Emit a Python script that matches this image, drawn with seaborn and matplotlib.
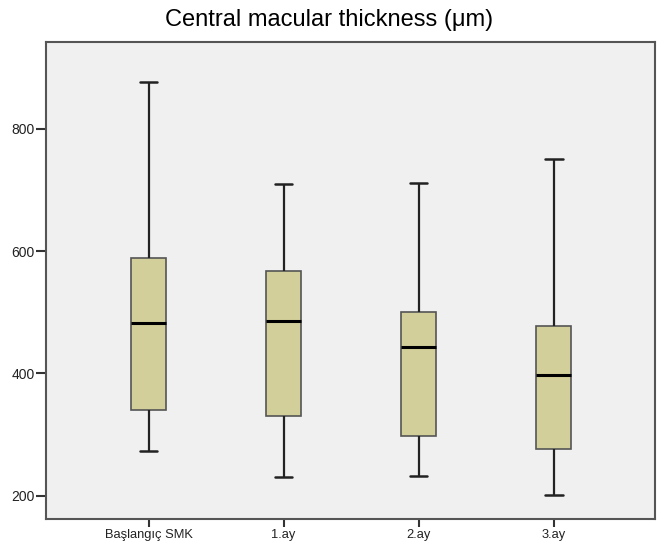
import numpy as np
import pandas as pd
import seaborn as sns
import matplotlib.pyplot as plt

groups = ['Başlangıç SMK', '1.ay', '2.ay', '3.ay']
# min, Q1, median, Q3, max
lows = [274, 230, 233, 201]
q1s = [341, 330, 297, 276]
medians = [482, 486, 444, 397]
q3s = [589, 567, 501, 478]
highs = [877, 709, 712, 751]

rows = []
for g, a, b, c, d, e in zip(groups, lows, q1s, medians, q3s, highs):
    for v in (a, b, c, d, e):
        rows.append({'time': g, 'cmt': v})
df = pd.DataFrame(rows)

sns.set_style('white')
plt.rcParams['font.family'] = ['Liberation Sans', 'DejaVu Sans']

fig = plt.figure(figsize=(6.58, 5.44), dpi=100)
ax = fig.add_axes([46/658, 1 - 519/544, (655 - 46)/658, (519 - 42)/544])
ax.set_facecolor('#f0f0f0')

sns.boxplot(data=df, x='time', y='cmt', order=groups, whis=(0, 100),
            width=0.26, color='#d3cf9a', saturation=1, ax=ax,
            linecolor='#555555', linewidth=1.2,
            medianprops={'color': 'black', 'linewidth': 2.2},
            whiskerprops={'color': '#222222', 'linewidth': 1.6},
            capprops={'color': '#222222', 'linewidth': 1.8},
            capwidths=0.13, showfliers=False)

ax.set_xlim(-0.76, 3.75)
ax.set_ylim(162, 942)
ax.set_yticks([200, 400, 600, 800])
ax.set_xlabel('')
ax.set_ylabel('')
ax.tick_params(axis='both', direction='out', length=7, width=1.5,
               color='#333333', labelsize=10, labelcolor='#222222', pad=1,
               bottom=True, left=True)
ax.tick_params(axis='x', length=6, pad=1.5, labelsize=9.3)
for s in ax.spines.values():
    s.set_color('#555555')
    s.set_linewidth(1.5)

fig.text(0.5, 1 - 20/544, 'Central macular thickness (μm)', ha='center',
         va='center', fontsize=17, color='black')

fig.savefig('out.png', dpi=100, facecolor='white')
